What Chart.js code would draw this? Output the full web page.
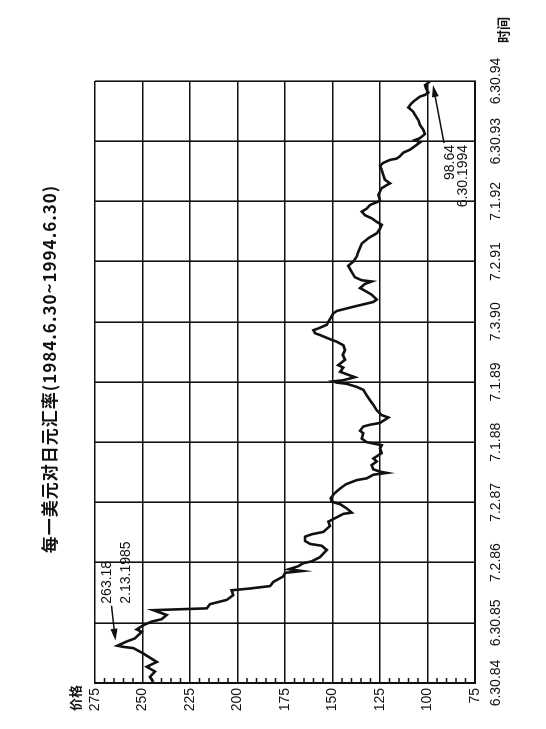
<!DOCTYPE html>
<html>
<head>
<meta charset="utf-8">
<script src="https://cdn.jsdelivr.net/npm/chart.js@4.4.1/dist/chart.umd.min.js"></script>
<style>
  html, body { margin:0; padding:0; background:#fff; }
  body { width:546px; height:729px; overflow:hidden; position:relative; }
  /* the page is a scan turned on its side: draw flat, then rotate */
  #wrap { position:absolute; left:0; top:0; width:729px; height:546px;
          transform-origin:0 0; transform:translateY(729px) rotate(-90deg); }
</style>
</head>
<body>
<div id="wrap"><canvas id="chart" width="729" height="546"></canvas></div>
<script>

const title = "每一美元对日元汇率(1984.6.30~1994.6.30)";

// decimal year / yen per dollar
const dates = [
  1984.52,1984.60,1984.69,1984.77,1984.85,1984.99,1985.08,1985.10,1985.12,1985.19,
  1985.24,1985.35,1985.39,1985.46,1985.52,1985.56,1985.63,1985.67,1985.71,1985.74,
  1985.81,1985.88,1985.96,1986.04,1986.07,1986.11,1986.18,1986.27,1986.33,1986.36,
  1986.39,1986.44,1986.49,1986.52,1986.59,1986.71,1986.78,1986.81,1986.86,1986.93,
  1986.97,1987.01,1987.11,1987.18,1987.31,1987.33,1987.40,1987.47,1987.51,1987.57,
  1987.65,1987.73,1987.80,1987.87,1987.90,1987.96,1987.99,1988.01,1988.05,1988.12,
  1988.18,1988.23,1988.32,1988.40,1988.45,1988.50,1988.56,1988.65,1988.69,1988.76,
  1988.79,1988.82,1988.91,1988.95,1989.03,1989.12,1989.20,1989.28,1989.37,1989.42,
  1989.47,1989.49,1989.51,1989.53,1989.58,1989.62,1989.67,1989.74,1989.78,1989.87,
  1989.95,1990.03,1990.11,1990.17,1990.20,1990.28,1990.31,1990.36,1990.39,1990.45,
  1990.50,1990.64,1990.68,1990.75,1990.83,1990.87,1990.95,1991.00,1991.06,1991.13,
  1991.17,1991.19,1991.24,1991.33,1991.43,1991.50,1991.58,1991.66,1991.80,1991.89,
  1991.97,1992.05,1992.11,1992.16,1992.22,1992.27,1992.33,1992.38,1992.44,1992.51,
  1992.61,1992.72,1992.77,1992.80,1992.86,1992.94,1993.02,1993.09,1993.14,1993.19,
  1993.21,1993.25,1993.31,1993.36,1993.44,1993.48,1993.52,1993.55,1993.62,1993.69,
  1993.77,1993.85,1993.94,1993.99,1994.06,1994.13,1994.18,1994.24,1994.27,1994.31,
  1994.38,1994.43,1994.47,1994.50
];
const rates = [
  244.3,246.1,243.4,247.8,242.5,249.6,254.8,260.1,263.18,258.3,
  254.0,250.4,253.1,249.6,245.2,239.9,237.3,240.8,244.3,216.2,
  214.5,205.7,202.2,203.1,193.4,182.9,181.1,175.9,175.0,166.0,
  173.0,168.0,165.4,161.0,156.6,153.0,155.7,161.8,164.5,164.5,
  161.0,154.8,151.3,152.2,144.3,139.9,142.5,146.0,150.4,151.0,
  149.0,146.0,143.0,137.3,132.0,128.5,121.5,125.0,128.5,129.4,
  126.7,128.5,124.1,125.0,124.1,132.0,134.6,133.8,135.5,133.8,
  130.3,125.0,120.6,124.1,126.7,128.5,130.3,132.0,133.8,137.3,
  142.5,147.8,149.6,144.3,138.2,141.7,146.0,144.3,147.0,143.4,
  144.6,143.4,144.3,147.8,150.4,156.6,159.2,160.1,157.5,153.0,
  152.2,149.6,147.8,139.0,128.5,126.7,129.4,132.0,135.5,132.9,
  129.4,134.6,138.2,139.9,141.7,139.0,137.3,136.4,134.6,131.1,
  126.7,125.0,124.1,126.7,129.4,132.9,134.6,132.0,130.3,125.0,
  125.9,124.1,121.5,119.7,122.4,123.3,124.1,125.0,123.3,119.7,
  116.3,114.5,112.7,109.2,105.7,104.0,106.6,104.0,101.3,102.2,
  104.0,104.8,106.6,107.5,110.1,108.4,106.6,104.0,101.3,99.6,
  100.8,101.3,99.6,98.64
];

const timeTicks  = [1984.5,1985.5,1986.5,1987.5,1988.5,1989.5,1990.5,1991.5,1992.5,1993.5,1994.5];
const timeLabels = ["6.30.84","6.30.85","7.2.86","7.2.87","7.1.88","7.1.89","7.3.90","7.2.91","7.1.92","6.30.93","6.30.94"];
const priceTicks = [75,100,125,150,175,200,225,250,275];
const minorTicks = [];
for (let v = 80; v < 275; v += 5) if (v % 25) minorTicks.push(v);

const peakIdx = 8;               // 263.18  2.13.1985
const lastIdx = rates.length - 1; // 98.64  6.30.1994

const ink = "#111";
const tickFont = { family: "Liberation Sans", size: 14 };

function arrow(ctx, x1, y1, x2, y2){
  const a = Math.atan2(y2 - y1, x2 - x1);
  ctx.beginPath();
  ctx.moveTo(x1, y1);
  ctx.lineTo(x2 - 8 * Math.cos(a), y2 - 8 * Math.sin(a));
  ctx.stroke();
  ctx.beginPath();
  ctx.moveTo(x2, y2);
  ctx.lineTo(x2 - 12 * Math.cos(a) + 3.5 * Math.sin(a), y2 - 12 * Math.sin(a) - 3.5 * Math.cos(a));
  ctx.lineTo(x2 - 12 * Math.cos(a) - 3.5 * Math.sin(a), y2 - 12 * Math.sin(a) + 3.5 * Math.cos(a));
  ctx.closePath();
  ctx.fill();
}

const extras = {
  id: "extras",
  afterDraw(chart){
    const ctx = chart.ctx, xs = chart.scales.x, ys = chart.scales.y, area = chart.chartArea;
    ctx.save();
    ctx.fillStyle = ink;
    ctx.strokeStyle = ink;

    // minor ticks on the price axis, pointing inward
    ctx.lineWidth = 1.5;
    minorTicks.forEach(v => {
      const y = ys.getPixelForValue(v);
      ctx.beginPath();
      ctx.moveTo(area.left, y);
      ctx.lineTo(area.left + 5, y);
      ctx.stroke();
    });

    // title and axis names
    ctx.textBaseline = "middle";
    ctx.textAlign = "center";
    ctx.font = 'bold 17px "Noto Sans CJK SC"';
    ctx.letterSpacing = "1px";
    ctx.fillText(title, 360, 50);
    ctx.letterSpacing = "0px";
    ctx.font = 'bold 13px "Noto Sans CJK SC"';
    ctx.fillText("价格", 31, 75);
    ctx.fillText("时间", 699, 503);

    // peak annotation
    ctx.font = '14px "Liberation Sans"';
    const pu = xs.getPixelForValue(dates[peakIdx]), pv = ys.getPixelForValue(rates[peakIdx]);
    ctx.textAlign = "left";
    ctx.fillText(rates[peakIdx].toFixed(2), pu + 42, pv - 10);
    ctx.fillText("2.13.1985", pu + 42, pv + 9);
    ctx.lineWidth = 1.5;
    arrow(ctx, pu + 40, pv - 6, pu + 5, pv - 2);

    // last value annotation
    const eu = xs.getPixelForValue(dates[lastIdx]), ev = ys.getPixelForValue(rates[lastIdx]);
    ctx.textAlign = "right";
    ctx.fillText(rates[lastIdx].toFixed(2), eu - 64, ev + 20);
    ctx.fillText("6.30.1994", eu - 64, ev + 33);
    arrow(ctx, eu - 62, ev + 14, eu - 4, ev + 3);

    ctx.restore();
  }
};

new Chart(document.getElementById("chart"), {
  type: "line",
  data: {
    datasets: [{
      data: dates.map((d, i) => ({ x: d, y: rates[i] })),
      borderColor: ink,
      borderWidth: 2.6,
      pointRadius: 0,
      tension: 0,
      fill: false
    }]
  },
  options: {
    responsive: false,
    animation: false,
    devicePixelRatio: 1,
    layout: { padding: { top: 95, right: 81, left: 0, bottom: 0 } },
    plugins: { legend: { display: false }, tooltip: { enabled: false } },
    scales: {
      x: {
        type: "linear",
        min: 1984.5,
        max: 1994.5,
        afterBuildTicks: s => { s.ticks = timeTicks.map(v => ({ value: v })); },
        afterFit: s => { s.height = 71; },
        ticks: {
          color: ink,
          font: tickFont,
          padding: 13,
          maxRotation: 0,
          autoSkip: false,
          callback: (v, i) => timeLabels[i]
        },
        grid: { color: ink, lineWidth: 1.6, drawTicks: false },
        border: { color: ink, width: 2 }
      },
      y: {
        min: 75,
        max: 275,
        afterBuildTicks: s => { s.ticks = priceTicks.map(v => ({ value: v })); },
        afterFit: s => { s.width = 46; },
        ticks: { color: ink, font: tickFont, padding: 5 },
        grid: { color: ink, lineWidth: 1.6, drawTicks: false },
        border: { color: ink, width: 2 }
      }
    }
  },
  plugins: [extras]
});
</script>
</body>
</html>
